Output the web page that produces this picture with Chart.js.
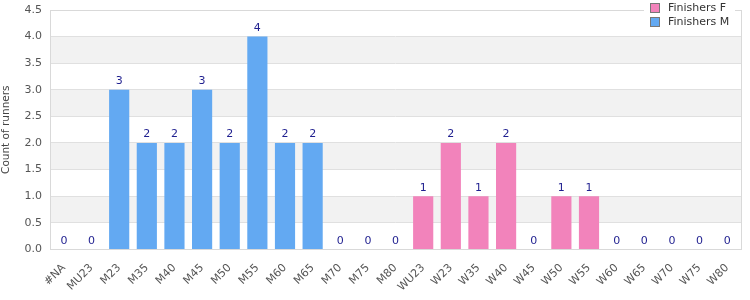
<!DOCTYPE html>
<html><head><meta charset="utf-8">
<script src="https://cdn.jsdelivr.net/npm/chart.js@4"></script>
<style>html,body{margin:0;padding:0;background:#fff}#wrap{width:750px;height:300px}</style>
</head><body><div id="wrap"><canvas id="c" width="750" height="300"></canvas></div>
<script>
const categories = ["#NA","MU23","M23","M35","M40","M45","M50","M55","M60","M65","M70","M75","M80","WU23","W23","W35","W40","W45","W50","W55","W60","W65","W70","W75","W80"];
const finishersM = [0,0,3,2,2,3,2,4,2,2,0,0,0,null,null,null,null,null,null,null,null,null,null,null,null];
const finishersF = [null,null,null,null,null,null,null,null,null,null,null,null,null,1,2,1,2,0,1,1,0,0,0,0,0];
const yTicks = [0,0.5,1,1.5,2,2.5,3,3.5,4,4.5];

const FONT = "'DejaVu Sans', sans-serif";

const bandsPlugin = {
  id: 'bands',
  beforeDraw(chart) {
    const {ctx, chartArea: a, scales: {y}} = chart;
    ctx.save();
    ctx.fillStyle = '#f2f2f2';
    for (let i = 0; i < yTicks.length - 1; i++) {
      if (i % 2 === 1) {
        const t = y.getPixelForValue(yTicks[i+1]), b = y.getPixelForValue(yTicks[i]);
        ctx.fillRect(a.left, t, a.right - a.left, b - t);
      }
    }
    ctx.restore();
  },
  afterDraw(chart) {
    const {ctx, chartArea: a, scales: {x, y}} = chart;
    ctx.save();
    ctx.strokeStyle = '#d9d9d9';
    ctx.lineWidth = 1;
    ctx.strokeRect(Math.round(a.left) + 0.5, Math.round(a.top) + 0.5, Math.round(a.right - a.left), Math.round(a.bottom - a.top));
    // value labels
    ctx.fillStyle = '#1f1f8f';
    ctx.font = '11px ' + FONT;
    ctx.textAlign = 'center';
    ctx.textBaseline = 'bottom';
    categories.forEach((c, i) => {
      const v = (finishersM[i] ?? 0) + (finishersF[i] ?? 0);
      ctx.fillText(String(v), x.getPixelForValue(i), y.getPixelForValue(v) - 3);
    });
    // legend
    const ds = [chart.data.datasets[0], chart.data.datasets[1]];
    ctx.fillStyle = '#fff';
    ctx.fillRect(644, 0, 91, 34);
    ds.forEach((d, i) => {
      const yy = 8 + i * 14;
      ctx.fillStyle = d.backgroundColor;
      ctx.fillRect(650.5, yy - 4.5, 9, 9);
      ctx.strokeStyle = '#777';
      ctx.strokeRect(650.5, yy - 4.5, 9, 9);
      ctx.fillStyle = '#333';
      ctx.textAlign = 'left';
      ctx.textBaseline = 'middle';
      ctx.font = '11px ' + FONT;
      ctx.fillText(d.label, 668, yy + 0.5);
    });
    ctx.restore();
  }
};

new Chart(document.getElementById('c'), {
  type: 'bar',
  data: {
    labels: categories,
    datasets: [
      {label: 'Finishers F', data: finishersF, backgroundColor: '#f283bb', barPercentage: 0.73, categoryPercentage: 1},
      {label: 'Finishers M', data: finishersM, backgroundColor: '#63a9f2', barPercentage: 0.73, categoryPercentage: 1}
    ]
  },
  options: {
    responsive: false,
    animation: false,
    layout: {padding: {top: 10, right: 9, left: 0, bottom: 2}},
    plugins: {legend: {display: false}, tooltip: {enabled: false}},
    scales: {
      x: {
        stacked: true,
        grid: {display: false},
        border: {color: '#d9d9d9'},
        ticks: {color: '#555', font: {family: FONT, size: 11}, maxRotation: 45, minRotation: 45, autoSkip: false, padding: 4}
      },
      y: {
        stacked: true,
        min: 0, max: 4.5,
        afterBuildTicks(s) { s.ticks = yTicks.map(v => ({value: v})); },
        grid: {color: '#e0e0e0', drawTicks: false},
        border: {display: false},
        ticks: {color: '#555', font: {family: FONT, size: 11, lineHeight: 0.2}, padding: 8, callback: v => Number(v).toFixed(1)},
        title: {display: true, text: 'Count of runners', color: '#444', font: {family: FONT, size: 10.5}, padding: {top: 0, bottom: 4}}
      }
    }
  },
  plugins: [bandsPlugin]
});
</script></body></html>
